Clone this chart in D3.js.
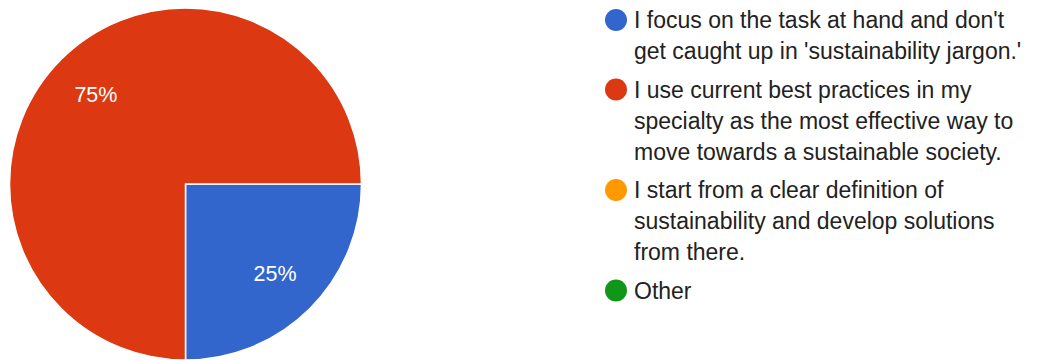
<!DOCTYPE html>
<html>
<head>
<meta charset="utf-8">
<script src="https://cdn.jsdelivr.net/npm/d3@7/dist/d3.min.js"></script>
<style>
  html, body { margin: 0; padding: 0; background: #ffffff; }
  svg { display: block; }
</style>
</head>
<body>
<svg id="chart" width="1040" height="360"></svg>
<script>
// Survey answers and their share of responses (percent)
const categories = [
  "I focus on the task at hand and don't get caught up in 'sustainability jargon.'",
  "I use current best practices in my specialty as the most effective way to move towards a sustainable society.",
  "I start from a clear definition of sustainability and develop solutions from there.",
  "Other"
];
// Legend text broken into lines
const legendLines = [
  ["I focus on the task at hand and don't", "get caught up in 'sustainability jargon.'"],
  ["I use current best practices in my", "specialty as the most effective way to", "move towards a sustainable society."],
  ["I start from a clear definition of", "sustainability and develop solutions", "from there."],
  ["Other"]
];
const values = [25, 75, 0, 0];
const colors = ["#3366cc", "#dc3912", "#ff9900", "#109618"];

const svg = d3.select("#chart");
const font = "Arial, 'Liberation Sans', sans-serif";

const cx = 185.5, cy = 184, radius = 176;

const data = categories.map((c, i) => ({ name: c, value: values[i], color: colors[i] }));

const pie = d3.pie()
  .sort(null)
  .value(d => d.value)
  .startAngle(Math.PI / 2)
  .endAngle(Math.PI / 2 + 2 * Math.PI);

const arc = d3.arc().innerRadius(0).outerRadius(radius);
const labelArc = d3.arc().innerRadius(radius * 0.72).outerRadius(radius * 0.72);

const g = svg.append("g").attr("transform", `translate(${cx},${cy})`);
const arcs = pie(data).filter(d => d.data.value > 0);

g.selectAll("path.slice")
  .data(arcs)
  .enter().append("path")
  .attr("class", "slice")
  .attr("d", arc)
  .attr("fill", d => d.data.color)
  .attr("stroke", "#ffffff")
  .attr("stroke-width", 1.5);

const total = d3.sum(values);
g.selectAll("text.pct")
  .data(arcs)
  .enter().append("text")
  .attr("class", "pct")
  .attr("transform", d => `translate(${labelArc.centroid(d)})`)
  .attr("text-anchor", "middle")
  .attr("dy", "0.36em")
  .attr("fill", "#ffffff")
  .attr("font-family", font)
  .attr("font-size", 21.5)
  .text(d => d3.format(".0%")(d.data.value / total));

// Legend
const legend = svg.append("g");
const lineH = 31, itemGap = 7.5, firstBaseline = 28;
let y = firstBaseline;
legendLines.forEach((lines, i) => {
  const item = legend.append("g");
  item.append("circle")
    .attr("cx", 616)
    .attr("cy", y - 8)
    .attr("r", 11)
    .attr("fill", colors[i]);
  const t = item.append("text")
    .attr("font-family", font)
    .attr("font-size", 23)
    .attr("fill", "#222222");
  lines.forEach((ln, j) => {
    t.append("tspan")
      .attr("x", 634)
      .attr("y", y + j * lineH)
      .text(ln);
  });
  y += lines.length * lineH + itemGap;
});
</script>
</body>
</html>
